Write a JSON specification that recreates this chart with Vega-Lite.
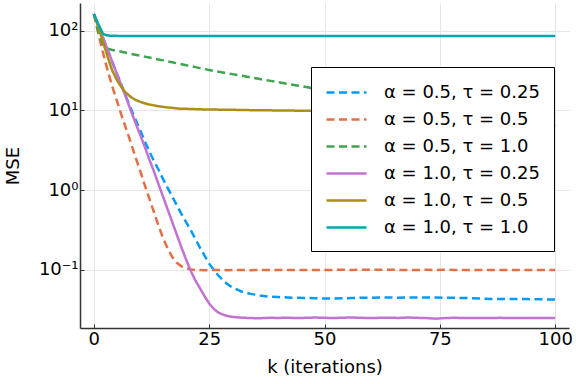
{
  "$schema": "https://vega.github.io/schema/vega-lite/v6.json",
  "width": 489,
  "height": 325,
  "autosize": {"type": "none"},
  "padding": {"left": 80, "top": 3, "right": 7, "bottom": 56},
  "background": "white",
  "config": {"font": "DejaVu Sans", "view": {"stroke": null}},
  "data": {"values": [
    {"k":0,"a":162.2,"b":162.2,"c":162.2,"d":162.2,"e":162.2,"f":162.2},
    {"k":1,"a":114.8,"b":91.2,"c":95.5,"d":114.8,"e":109.6,"f":120.2},
    {"k":2,"a":81.3,"b":52.5,"c":67.6,"d":81.3,"e":72.4,"f":91.2},
    {"k":3,"a":57.5,"b":31.6,"c":59.6,"d":57.5,"e":46.8,"f":87.1},
    {"k":4,"a":40.7,"b":20.0,"c":57.5,"d":40.7,"e":31.6,"f":86.5},
    {"k":5,"a":28.8,"b":13.2,"c":56.0,"d":28.8,"e":24.0,"f":86.3},
    {"k":6,"a":20.9,"b":8.71,"c":54.5,"d":20.4,"e":19.5,"f":86.2},
    {"k":7,"a":14.8,"b":5.89,"c":53.0,"d":14.5,"e":16.6,"f":86.2},
    {"k":8,"a":10.7,"b":3.98,"c":51.5,"d":10.0,"e":14.8,"f":86.2},
    {"k":9,"a":7.76,"b":2.63,"c":50.1,"d":7.08,"e":13.6,"f":86.2},
    {"k":10,"a":5.75,"b":1.78,"c":48.8,"d":5.01,"e":12.9,"f":86.2},
    {"k":11,"a":4.17,"b":1.175,"c":47.4,"d":3.55,"e":12.3,"f":86.2},
    {"k":12,"a":3.09,"b":0.794,"c":46.1,"d":2.45,"e":11.9,"f":86.2},
    {"k":13,"a":2.34,"b":0.537,"c":44.9,"d":1.74,"e":11.6,"f":86.2},
    {"k":14,"a":1.82,"b":0.363,"c":43.7,"d":1.20,"e":11.3,"f":86.2},
    {"k":15,"a":1.38,"b":0.251,"c":42.5,"d":0.832,"e":11.1,"f":86.2},
    {"k":16,"a":1.07,"b":0.186,"c":41.3,"d":0.575,"e":10.9,"f":86.2},
    {"k":17,"a":0.832,"b":0.145,"c":40.2,"d":0.398,"e":10.8,"f":86.2},
    {"k":18,"a":0.646,"b":0.123,"c":39.1,"d":0.275,"e":10.6,"f":86.2},
    {"k":19,"a":0.501,"b":0.111,"c":38.0,"d":0.191,"e":10.5,"f":86.2},
    {"k":20,"a":0.398,"b":0.105,"c":37.0,"d":0.135,"e":10.5,"f":86.2},
    {"k":21,"a":0.316,"b":0.101,"c":36.0,"d":0.0977,"e":10.45,"f":86.2},
    {"k":22,"a":0.245,"b":0.100,"c":35.0,"d":0.0741,"e":10.4,"f":86.2},
    {"k":23,"a":0.191,"b":0.0995,"c":34.0,"d":0.0589,"e":10.35,"f":86.2},
    {"k":24,"a":0.151,"b":0.0990,"c":33.1,"d":0.0468,"e":10.3,"f":86.2},
    {"k":25,"a":0.120,"b":0.0993,"c":32.2,"d":0.0380,"e":10.3,"f":86.2},
    {"k":26,"a":0.100,"b":0.0998,"c":31.3,"d":0.0324,"e":10.3,"f":86.2},
    {"k":27,"a":0.0851,"b":0.1000,"c":30.6,"d":0.0292,"e":10.25,"f":86.2},
    {"k":28,"a":0.0741,"b":0.0996,"c":29.9,"d":0.0275,"e":10.2,"f":86.2},
    {"k":29,"a":0.0661,"b":0.0993,"c":29.2,"d":0.0264,"e":10.2,"f":86.2},
    {"k":30,"a":0.0603,"b":0.0995,"c":28.6,"d":0.0258,"e":10.2,"f":86.2},
    {"k":32,"a":0.0537,"b":0.0999,"c":27.3,"d":0.0252,"e":10.15,"f":86.2},
    {"k":34,"a":0.0501,"b":0.0994,"c":26.0,"d":0.0249,"e":10.1,"f":86.2},
    {"k":36,"a":0.0479,"b":0.0997,"c":24.8,"d":0.0248,"e":10.05,"f":86.2},
    {"k":38,"a":0.0462,"b":0.1002,"c":23.7,"d":0.0251,"e":10.05,"f":86.2},
    {"k":40,"a":0.0457,"b":0.0998,"c":22.6,"d":0.0250,"e":10.0,"f":86.2},
    {"k":42,"a":0.0452,"b":0.0996,"c":21.6,"d":0.0252,"e":10.0,"f":86.2},
    {"k":44,"a":0.0447,"b":0.1001,"c":20.6,"d":0.0249,"e":9.95,"f":86.2},
    {"k":46,"a":0.0445,"b":0.0999,"c":19.7,"d":0.0251,"e":9.9,"f":86.2},
    {"k":48,"a":0.0442,"b":0.0995,"c":18.8,"d":0.0253,"e":9.9,"f":86.2},
    {"k":50,"a":0.0437,"b":0.0997,"c":18.1,"d":0.0251,"e":9.85,"f":86.2},
    {"k":52,"a":0.0439,"b":0.1002,"c":17.3,"d":0.0249,"e":9.85,"f":86.2},
    {"k":54,"a":0.0441,"b":0.1004,"c":16.6,"d":0.0252,"e":9.82,"f":86.2},
    {"k":56,"a":0.0445,"b":0.1000,"c":16.0,"d":0.0253,"e":9.8,"f":86.2},
    {"k":58,"a":0.0447,"b":0.1005,"c":15.3,"d":0.0251,"e":9.8,"f":86.2},
    {"k":60,"a":0.0449,"b":0.1007,"c":14.7,"d":0.0249,"e":9.78,"f":86.2},
    {"k":62,"a":0.0452,"b":0.1003,"c":14.1,"d":0.0251,"e":9.76,"f":86.2},
    {"k":64,"a":0.0451,"b":0.1006,"c":13.5,"d":0.0252,"e":9.75,"f":86.2},
    {"k":66,"a":0.0449,"b":0.1002,"c":13.0,"d":0.0250,"e":9.74,"f":86.2},
    {"k":68,"a":0.0450,"b":0.0998,"c":12.4,"d":0.0253,"e":9.72,"f":86.2},
    {"k":70,"a":0.0452,"b":0.1001,"c":11.9,"d":0.0251,"e":9.7,"f":86.2},
    {"k":72,"a":0.0450,"b":0.1004,"c":11.5,"d":0.0249,"e":9.7,"f":86.2},
    {"k":74,"a":0.0451,"b":0.0999,"c":11.0,"d":0.0245,"e":9.68,"f":86.2},
    {"k":76,"a":0.0449,"b":0.1006,"c":10.5,"d":0.0249,"e":9.66,"f":86.2},
    {"k":78,"a":0.0447,"b":0.1001,"c":10.1,"d":0.0251,"e":9.65,"f":86.2},
    {"k":80,"a":0.0445,"b":0.0997,"c":9.70,"d":0.0250,"e":9.64,"f":86.2},
    {"k":82,"a":0.0442,"b":0.1003,"c":9.31,"d":0.0249,"e":9.63,"f":86.2},
    {"k":84,"a":0.0437,"b":0.0999,"c":8.93,"d":0.0249,"e":9.62,"f":86.2},
    {"k":86,"a":0.0432,"b":0.0996,"c":8.57,"d":0.0249,"e":9.6,"f":86.2},
    {"k":88,"a":0.0433,"b":0.0998,"c":8.22,"d":0.0251,"e":9.6,"f":86.2},
    {"k":90,"a":0.0432,"b":0.1002,"c":7.89,"d":0.0249,"e":9.58,"f":86.2},
    {"k":92,"a":0.0433,"b":0.0997,"c":7.57,"d":0.0250,"e":9.57,"f":86.2},
    {"k":94,"a":0.0431,"b":0.0995,"c":7.26,"d":0.0249,"e":9.56,"f":86.2},
    {"k":96,"a":0.0429,"b":0.1001,"c":6.97,"d":0.0249,"e":9.55,"f":86.2},
    {"k":98,"a":0.0427,"b":0.0998,"c":6.68,"d":0.0249,"e":9.54,"f":86.2},
    {"k":100,"a":0.0425,"b":0.0996,"c":6.41,"d":0.0249,"e":9.53,"f":86.2}
  ]},
  "transform": [{"fold": ["a","b","c","d","e","f"], "as": ["s","v"]}],
  "mark": {"type": "line", "strokeWidth": 2.5, "clip": true},
  "encoding": {
    "x": {
      "field": "k", "type": "quantitative",
      "scale": {"domain": [-3, 103], "nice": false, "zero": false},
      "axis": {
        "values": [0, 25, 50, 75, 100],
        "title": "k (iterations)",
        "titleFontSize": 18, "titleFontWeight": "normal", "titleColor": "black", "titlePadding": 10,
        "labelFontSize": 18, "labelColor": "black", "labelPadding": 6,
        "gridColor": "#e6e6e6", "gridWidth": 1,
        "domainColor": "#333333", "domainWidth": 1.5,
        "tickColor": "#333333", "tickSize": -4, "tickWidth": 1
      }
    },
    "y": {
      "field": "v", "type": "quantitative",
      "scale": {"type": "log", "domain": [0.0187, 223], "nice": false},
      "axis": {
        "values": [0.1, 1, 10, 100],
        "labelExpr": "datum.value >= 50 ? '10²' : datum.value >= 5 ? '10¹' : datum.value >= 0.5 ? '10⁰' : '10⁻¹'",
        "title": "MSE",
        "titleFontSize": 18, "titleFontWeight": "normal", "titleColor": "black", "titlePadding": 16,
        "labelFontSize": 18, "labelColor": "black", "labelPadding": 6,
        "gridColor": "#e6e6e6", "gridWidth": 1,
        "domainColor": "#333333", "domainWidth": 1.5,
        "tickColor": "#333333", "tickSize": -4, "tickWidth": 1
      }
    },
    "color": {
      "field": "s", "type": "nominal",
      "scale": {"domain": ["a","b","c","d","e","f"], "range": ["#009AFA","#E36F47","#3EA44E","#C371D2","#AC8E18","#00A9AD"]},
      "legend": {
        "title": null, "orient": "none", "legendX": 231, "legendY": 64,
        "symbolType": "M-1,0H3", "symbolSize": 400, "symbolStrokeWidth": 2.5,
        "labelFontSize": 18, "labelColor": "black", "labelOffset": 36, "rowPadding": 6,
        "padding": 14, "strokeColor": "black", "fillColor": "white", "cornerRadius": 0,
        "labelExpr": "datum.label == 'a' ? 'α = 0.5, τ = 0.25' : datum.label == 'b' ? 'α = 0.5, τ = 0.5' : datum.label == 'c' ? 'α = 0.5, τ = 1.0' : datum.label == 'd' ? 'α = 1.0, τ = 0.25' : datum.label == 'e' ? 'α = 1.0, τ = 0.5' : 'α = 1.0, τ = 1.0'"
      }
    },
    "strokeDash": {
      "field": "s", "type": "nominal",
      "scale": {"domain": ["a","b","c","d","e","f"], "range": [[8,4.5],[8,4.5],[8,4.5],[1,0],[1,0],[1,0]]},
      "legend": {
        "title": null, "orient": "none", "legendX": 231, "legendY": 64,
        "symbolType": "M-1,0H3", "symbolSize": 400, "symbolStrokeWidth": 2.5,
        "labelFontSize": 18, "labelColor": "black", "labelOffset": 36, "rowPadding": 6,
        "padding": 14, "strokeColor": "black", "fillColor": "white", "cornerRadius": 0,
        "labelExpr": "datum.label == 'a' ? 'α = 0.5, τ = 0.25' : datum.label == 'b' ? 'α = 0.5, τ = 0.5' : datum.label == 'c' ? 'α = 0.5, τ = 1.0' : datum.label == 'd' ? 'α = 1.0, τ = 0.25' : datum.label == 'e' ? 'α = 1.0, τ = 0.5' : 'α = 1.0, τ = 1.0'"
      }
    }
  }
}
